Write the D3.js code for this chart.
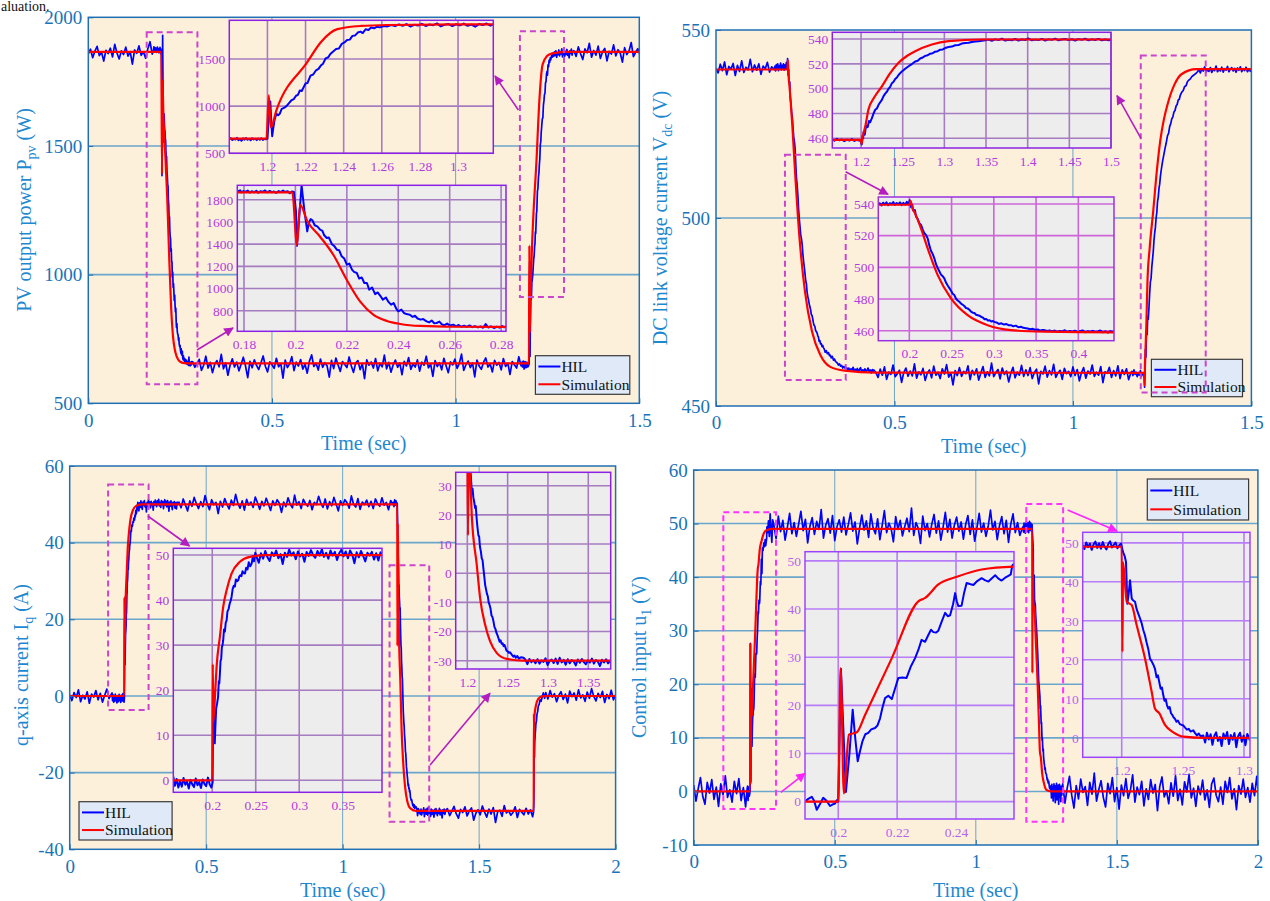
<!DOCTYPE html>
<html lang="en">
<head>
<meta charset="UTF-8">
<title>HIL vs Simulation responses</title>
<style>
  body { margin: 0; background: #fff; }
  svg { display: block; }
  text { font-family: "Liberation Serif", "Times New Roman", serif; }
</style>
</head>
<body>
<svg id="chart" width="1270" height="901"></svg>
<script src="https://cdn.jsdelivr.net/npm/d3@7"></script>
<script>
// ---------- PV output power (top left) ----------
const pvTicksX = [0, 0.5, 1, 1.5];
const pvTicksY = [500, 1000, 1500, 2000];
const pvSim = [[0,1866],[0.1988,1866],[0.2006,1391],[0.2018,1755],[0.2046,1609],[0.2096,1467],[0.2148,1302],[0.22,1077],[0.2252,882],[0.2304,763],[0.2356,708],[0.2408,681],[0.2486,663],[0.2616,656],[0.28,655],[1.1995,655],[1.2007,1114],[1.2018,774],[1.2047,956],[1.2209,1466],[1.2279,1675],[1.2367,1816],[1.249,1850],[1.263,1860],[1.3,1866],[1.5,1866]];
const pvStep = 0.006;
const pvHilPre = [1858,1876,1843,1869,1887,1851,1864,1830,1872,1859,1880,1846,1895,1861,1838,1870,1855,1884,1849,1867,1818,1873,1860,1889,1852,1866,1841,1878,1905,1857];
const pvHilMid = [662,640,655,671,628,648,683,637,659,619, 651,666,642,690,634,657,609,648,673,641, 660,626,652,679,645,600,663,638,669,647, 631,658,684,644,622,661,650,636,675,642, 655,598,668,639,653,681,627,660,645,670, 633,652,617,664,688,643,656,629,672,640, 658,646,602,667,635,676,649,624,662,651, 639,680,645,620,657,666,631,654,596,669, 648,661,637,674,626,655,642,687,634,659, 621,650,668,640,657,611,663,645,678,632, 654,641,669,625,660,648,683,638,652,605, 666,643,658,630,675,646,619,661,649,672, 636,655,691,628,650,664,639,657,603,668, 645,632,660,676,641,653,622,667,648,659, 630,674,643,656,612,662,650,637,681,646];
const pvHilPost = [1870,1848,1885,1859,1836,1877,1862,1899,1845,1871,1853,1888,1840,1866,1879,1831,1868,1857,1893,1850,1874,1861,1826,1882,1855,1869,1902,1847,1864,1878,1853];
const pvHilFall = [[0.1774,1872],[0.1785,1885],[0.179,1866],[0.1798,1878],[0.1805,1870],[0.1815,1882],[0.1822,1865],[0.183,1876],[0.184,1868],[0.1848,1880],[0.1856,1864],[0.1865,1877],[0.1873,1871],[0.1882,1884],[0.189,1866],[0.19,1879],[0.1908,1868],[0.1917,1874],[0.1925,1862],[0.1935,1878],[0.1943,1869],[0.1952,1883],[0.196,1870],[0.197,1876],[0.1978,1858],[0.1986,1875],[0.1994,1869],
  [0.2002,1700],[0.2006,1385],[0.2015,1650],[0.2024,1930],[0.2035,1700],[0.2046,1515],[0.2052,1590],[0.2059,1626],[0.2066,1615],[0.2075,1570],[0.2085,1560],[0.2096,1530],[0.2105,1520],[0.2112,1480],[0.2122,1455],[0.213,1460],[0.2142,1400],[0.2152,1380],[0.2161,1350],[0.217,1345],[0.218,1290],[0.219,1270],[0.22,1215],[0.221,1225],[0.222,1170],[0.2228,1150],[0.2239,1140],[0.2248,1090],[0.2258,1100],[0.2268,1050],[0.2278,1050],[0.2287,990],[0.2298,1010],[0.231,950],[0.232,965],[0.233,935],[0.234,900],[0.2352,920],[0.2362,880],[0.2372,855],[0.2382,870],[0.2392,820],[0.24,795],[0.2412,810],[0.2422,780],[0.2432,770],[0.2445,765],[0.2455,745],[0.2465,755],[0.2475,730],[0.2487,720],[0.2497,725],[0.251,705],[0.252,695],[0.253,712],[0.254,688],[0.2549,690],[0.256,702],[0.257,676],[0.258,670],[0.259,684],[0.26,668],[0.2614,675],[0.2625,660],[0.2635,672],[0.2645,656],[0.2656,665],[0.2666,654],[0.2677,668],[0.2688,652],[0.2698,662],[0.271,650],[0.272,658],[0.273,647],[0.274,680],[0.275,649],[0.276,660],[0.2772,645],[0.2783,656],[0.2794,648],[0.2805,662],[0.2812,651],[0.2819,660]];
const pvHilRise = [[1.18,652],[1.1808,660],[1.1816,641],[1.1824,655],[1.1832,646],[1.184,664],[1.1848,640],[1.1856,652],[1.1864,633],[1.1872,658],[1.188,645],[1.1888,662],[1.1896,643],[1.1904,655],[1.1912,638],[1.192,660],[1.1928,647],[1.1936,654],[1.1944,640],[1.1952,657],[1.196,645],[1.1968,659],[1.1976,642],[1.1984,653],[1.1992,648],
  [1.2,655],[1.2008,900],[1.2015,1050],[1.202,850],[1.2025,682],[1.203,760],[1.2038,860],[1.2047,920],[1.2056,903],[1.2065,920],[1.2075,970],[1.209,985],[1.21,1000],[1.2112,1030],[1.2125,1060],[1.2138,1075],[1.215,1110],[1.216,1120],[1.217,1166],[1.218,1160],[1.219,1200],[1.22,1240],[1.221,1245],[1.2226,1324],[1.224,1335],[1.2255,1380],[1.2268,1395],[1.228,1430],[1.2292,1450],[1.2305,1505],[1.232,1520],[1.233,1553],[1.2345,1580],[1.236,1605],[1.2375,1610],[1.239,1660],[1.2404,1675],[1.2418,1700],[1.2432,1705],[1.2446,1745],[1.246,1750],[1.2474,1780],[1.2488,1790],[1.25,1775],[1.2515,1815],[1.253,1808],[1.2544,1833],[1.256,1825],[1.2575,1842],[1.259,1835],[1.261,1850],[1.263,1845],
  [1.265,1860],[1.267,1848],[1.269,1866],[1.271,1852],[1.273,1870],[1.275,1844],[1.277,1862],[1.279,1855],[1.281,1873],[1.283,1850],[1.285,1866],[1.287,1858],[1.289,1877],[1.291,1846],[1.293,1864],[1.295,1870],[1.297,1849],[1.299,1868],[1.301,1856],[1.303,1875],[1.305,1852],[1.307,1864],[1.309,1842],[1.311,1870],[1.313,1860],[1.315,1876],[1.317,1853],[1.3185,1866]];

// ---------- DC link voltage (top right) ----------
const vdcTicksX = [0, 0.5, 1, 1.5];
const vdcTicksY = [450, 500, 550];
const vdcSim = [[0,539.5],[0.2,539.5],[0.2015,542],[0.2035,537.5],[0.2059,535],[0.2138,524.6],[0.2217,512],[0.2336,495.1],[0.2493,480.4],[0.269,469.8],[0.2927,463.5],[0.3203,460.4],[0.3598,459.4],[0.45,458.9],[1.1995,458.8],[1.2008,455.5],[1.2018,461],[1.203,464],[1.2055,471],[1.2088,483],[1.215,492],[1.225,501.9],[1.235,512.5],[1.245,520.8],[1.255,526.3],[1.265,530.2],[1.285,535.6],[1.305,538.3],[1.345,539.6],[1.5,539.6]];
const vdcStep = 0.006;
const vdcHilPre = [539.8,538.6,540.9,539.2,541.5,538.1,540.3,539.6,541.1,537.9,540.6,539.0,541.8,538.7,540.1,539.4,542.2,538.9,540.7,539.3,541.0,538.2,540.4,539.7,541.4,538.8,540.2];
const vdcHilMid = [458.9,457.6,459.8,458.2,460.4,457.1,459.0,458.4,460.9,457.8, 458.6,459.5,456.3,458.9,460.1,457.9,459.3,458.0,461.2,457.4, 459.1,458.3,460.0,456.8,458.7,459.6,457.5,460.6,458.2,459.0, 457.3,459.9,458.5,461.0,457.7,458.8,455.6,459.4,458.1,460.2, 457.9,459.2,458.6,460.7,457.0,459.5,458.3,459.9,456.9,458.8, 460.5,457.6,459.1,458.0,461.4,457.8,458.9,459.7,457.2,460.1, 458.4,459.3,456.4,458.7,460.3,457.5,459.0,458.2,460.8,457.9, 459.6,458.1,460.2,457.3,458.9,459.8,455.9,459.2,458.5,460.6, 457.7,459.4,458.3,461.1,457.6,458.8,459.5,457.1,460.0,458.6, 459.2,457.8,460.4,458.1,459.7,456.7,458.9,460.2,457.4,459.3, 458.5,460.9,457.9,459.0,458.2,460.5,456.2,459.1,458.7,460.3, 457.6,459.4,458.0,460.7,457.3,459.6,458.4,459.9,457.0,458.8];
const vdcHilFall = [[0.1633,539.5],[0.1652,540.4],[0.167,539.1],[0.169,540.8],[0.171,539.7],[0.173,541.0],[0.175,539.2],[0.177,540.5],[0.179,539.9],[0.181,541.2],[0.183,539.4],[0.185,540.6],[0.187,539.8],[0.189,541.0],[0.191,539.3],[0.193,540.7],[0.195,539.6],[0.197,541.3],[0.199,539.8],
  [0.2005,542.4],[0.202,538],[0.2035,539.5],[0.2045,536],[0.2066,536.2],[0.208,532],[0.21,530.5],[0.2117,528],[0.2138,526.8],[0.2158,524],[0.2178,521.5],[0.2198,520.3],[0.2217,518.3],[0.2236,514],[0.2256,510.5],[0.2276,508.5],[0.2296,505.7],[0.2316,502],[0.2336,499.5],[0.2355,497.5],[0.2375,495.4],[0.2394,494.5],[0.2414,493],[0.2434,490.4],[0.2454,488.5],[0.2474,486.9],[0.2494,485.2],[0.2513,483.3],[0.2533,482.5],[0.2553,480.2],[0.2572,479.1],[0.2592,478.3],[0.2612,477.1],[0.2632,476.4],[0.2651,475.6],[0.2671,474.3],[0.269,474.1],[0.271,473.2],[0.273,472.1],[0.275,471.4],[0.277,471.2],[0.279,470.1],[0.281,469.8],[0.283,469.5],[0.2848,468.8],[0.287,468.3],[0.289,467.2],[0.291,467.4],[0.293,466.5],[0.295,466.6],[0.297,465.8],[0.299,466.1],[0.3006,465.6],[0.303,465.2],[0.306,464.3],[0.309,464.7],[0.312,463.9],[0.315,464.2],[0.318,463.4],[0.3203,463.5],[0.323,462.8],[0.326,463.2],[0.329,462.2],[0.332,462.5],[0.335,461.8],[0.338,461.6],[0.34,461.4],[0.343,460.9],[0.346,461.2],[0.349,460.6],[0.352,460.8],[0.355,460.1],[0.358,460.5],[0.3598,460.4],[0.363,459.8],[0.366,460.2],[0.369,459.6],[0.372,460.1],[0.375,459.3],[0.378,459.9],[0.381,459.5],[0.384,460.3],[0.387,459.2],[0.39,459.8],[0.393,459.4],[0.396,460.0],[0.399,459.1],[0.402,459.7],[0.405,460.2],[0.408,459.0],[0.411,459.6],[0.414,459.3],[0.417,459.9],[0.42,459.2],[0.423,459.5],[0.426,460.1],[0.429,459.0],[0.432,459.6],[0.435,458.8],[0.438,459.7],[0.44,459.2],[0.4422,459.6]];
const vdcHilRise = [[1.1655,459.2],[1.168,458.1],[1.171,459.6],[1.174,458.4],[1.177,459.0],[1.18,457.8],[1.183,458.9],[1.186,458.2],[1.189,459.4],[1.192,457.9],[1.195,458.7],[1.198,458.3],[1.2,457.5],
  [1.2008,455],[1.2018,462],[1.2025,460],[1.203,465],[1.2045,463],[1.2055,468],[1.207,470],[1.208,469],[1.2095,474],[1.211,473],[1.2129,476],[1.215,480],[1.217,483],[1.219,484],[1.221,487],[1.223,489],[1.225,491],[1.227,494],[1.229,496],[1.231,497.5],[1.233,500],[1.235,501.5],[1.237,504.4],[1.239,505.5],[1.241,507.8],[1.243,509],[1.245,511],[1.247,512.5],[1.249,513.8],[1.252,515.5],[1.255,517],[1.258,518.5],[1.261,519.8],[1.265,521.9],[1.268,522.5],[1.271,524.3],[1.274,525.1],[1.277,526.4],[1.28,526.9],[1.283,528.2],[1.286,528.6],[1.289,529.8],[1.292,530.2],[1.295,531.4],[1.298,531.6],[1.301,532.7],[1.305,533.5],[1.309,533.9],[1.313,535.0],[1.317,535.2],[1.321,536.3],[1.325,536.7],[1.329,537.0],[1.333,537.6],[1.337,537.9],[1.341,538.2],[1.345,538.5],
  [1.349,538.9],[1.353,539.5],[1.357,538.6],[1.361,539.7],[1.365,539.1],[1.369,540.2],[1.373,538.8],[1.377,539.4],[1.381,539.0],[1.385,540.0],[1.389,538.7],[1.393,539.6],[1.397,539.2],[1.401,540.4],[1.405,538.9],[1.409,539.5],[1.413,539.1],[1.417,540.1],[1.421,538.8],[1.425,539.7],[1.429,539.3],[1.433,540.3],[1.437,538.9],[1.441,539.6],[1.445,540.0],[1.449,539.1],[1.453,539.8],[1.457,538.8],[1.461,539.9],[1.465,539.3],[1.469,540.2],[1.473,538.9],[1.477,539.7],[1.481,539.2],[1.485,540.1],[1.489,538.9],[1.493,539.6],[1.497,539.0],[1.5,539.5]];

// ---------- q-axis current (bottom left) ----------
const iqTicksX = [0, 0.5, 1, 1.5, 2];
const iqTicksY = [-40, -20, 0, 20, 40, 60];
const iqSim = [[0,0],[0.2,0],[0.2006,25.8],[0.2012,13],[0.2035,20],[0.205,25.2],[0.2088,31.9],[0.2126,38.5],[0.2165,42.2],[0.2222,45.9],[0.2318,48.5],[0.2433,49.6],[0.2625,50],[1.2,50],[1.2008,13],[1.2018,45],[1.2035,34],[1.2055,20],[1.2117,2.9],[1.2159,-8.6],[1.2221,-17.7],[1.2283,-23.4],[1.2366,-27.4],[1.249,-29.4],[1.2697,-30],[1.7,-30],[1.7006,-4.5],[1.7015,-8],[1.703,-5],[1.708,-2.5],[1.716,-0.8],[1.73,-0.1],[1.75,0],[2,0]];
const iqStep = 0.008;
const iqHilPre = [0.3,-1.2,0.9,-0.4,1.6,-1.5,0.2,-0.8,1.1,-1.9,0.5,-0.3,1.4,-1.0,0.7,-1.6,0.1,1.8,-0.7,0.4];
const iqHilHigh = [50.6,49.1,51.4,49.8,48.3,50.9,49.5,51.8,50.2,48.9, 50.7,49.4,52.3,50.1,48.6,51.2,49.9,50.5,47.6,50.8, 49.3,51.5,50.0,48.8,51.1,49.7,52.6,50.3,49.0,50.9, 48.5,51.3,49.8,50.6,49.2,51.9,50.4,48.7,50.8,49.6, 51.6,50.1,48.4,50.9,49.7,51.2,50.3,47.9,50.6,49.4, 51.7,50.0,49.1,52.4,49.8,50.7,48.9,51.3,50.2,49.5, 51.0,48.6,50.5,49.9,52.1,50.3,49.2,51.4,48.8,50.7, 49.6,51.8,50.1,48.3,50.9,49.7,51.2,50.4,49.0,52.2, 50.0,49.3,51.5,48.7,50.6,49.9,51.1,49.4,50.8,48.9, 51.4,50.2,49.5,51.7,49.8,50.5,48.6,51.0,49.9];
const iqHilLow = [-29.4,-31.2,-30.1,-28.8,-30.7,-31.9,-29.6,-30.4,-28.9,-31.3,-30.0,-29.2,-32.4,-30.6,-29.7,-31.0,-28.7,-30.3,-31.6,-29.5,-30.8,-29.1,-33.0,-30.2,-29.8,-31.4,-28.6,-30.5,-29.9,-31.1,-30.4,-28.9,-31.7,-29.6,-30.3,-31.0,-29.3,-30.8,-29.7,-31.5];
const iqHilStep2 = [[1.6995,-30.2],[1.7005,-28],[1.7012,-20],[1.702,-14],[1.7028,-16],[1.7038,-12],[1.705,-10.5],[1.7065,-9],[1.708,-7.2],[1.71,-6.5],[1.712,-4.8],[1.7145,-4.0],[1.717,-2.6],[1.72,-2.2],[1.723,-1.0],[1.727,-1.4],[1.731,-0.3],[1.735,0.8],[1.74,-0.6]];
const iqHilEnd = [0.9,-0.8,1.4,-0.3,0.6,-1.5,0.2,1.1,-0.9,0.5,-1.8,1.3,-0.2,0.8,-1.1,1.6,-0.5,0.3,-1.4,1.0,-0.6,1.9,-0.1,-1.3,0.7,-0.4,1.2,-1.7,0.4,-0.7,1.5,-1.0,0.3];
const iqHilRise = [[0.1552,0.8],[0.157,-1.2],[0.159,0.3],[0.161,-1.6],[0.163,-0.2],[0.165,-1.4],[0.167,0.5],[0.169,-1.0],[0.171,-0.3],[0.173,-1.8],[0.175,0.1],[0.177,-0.9],[0.179,-1.5],[0.181,0.4],[0.183,-1.1],[0.185,-0.4],[0.187,-1.7],[0.189,0.2],[0.191,-0.8],[0.193,-1.3],[0.195,0.6],[0.197,-0.9],[0.199,-1.6],
  [0.2004,-0.5],[0.2012,20],[0.2019,13.3],[0.2024,15],[0.2029,8.2],[0.2036,12],[0.2045,16],[0.2055,17],[0.2067,18.5],[0.2075,22],[0.2081,21.5],[0.2088,23.7],[0.2095,26.5],[0.2103,27],[0.211,29.5],[0.2118,30],[0.2126,31.1],[0.2135,33.5],[0.2145,33],[0.2155,35],[0.2165,35.5],[0.2175,37.5],[0.2188,38],[0.22,39.2],[0.2211,39.8],[0.2222,40.7],[0.2235,42.5],[0.2248,43.2],[0.226,43],[0.2272,44.6],[0.2286,44.2],[0.2299,44.4],[0.231,45.2],[0.2322,45.5],[0.2335,45.3],[0.2348,46.4],[0.236,46],[0.2376,45.9],[0.239,47.2],[0.2405,46.8],[0.242,48.4],[0.2437,47.5],[0.2453,48.1],[0.2468,49.8],[0.248,48.6],[0.2495,50.5],[0.251,49.6],
  [0.2535,48.3],[0.256,50.4],[0.2585,49.2],[0.261,50.9],[0.2635,49.5],[0.266,48.7],[0.2685,50.6],[0.271,49.8],[0.2735,51.0],[0.276,49.3],[0.2785,50.2],[0.281,48.0],[0.2835,50.5],[0.286,49.6],[0.2885,51.2],[0.291,49.9],[0.2935,50.6],[0.296,49.1],[0.2985,50.8],[0.301,49.7],[0.3035,50.3],[0.306,48.5],[0.3085,50.7],[0.311,49.8],[0.3135,51.1],[0.316,50.0],[0.3185,49.4],[0.321,50.9],[0.3235,49.9],[0.326,51.3],[0.3285,49.6],[0.331,50.5],[0.3335,49.2],[0.336,51.0],[0.3385,49.9],[0.341,50.7],[0.3435,48.9],[0.346,50.4],[0.3485,51.2],[0.351,49.7],[0.3535,50.8],[0.356,49.3],[0.3585,51.0],[0.361,50.1],[0.3635,48.2],[0.366,50.6],[0.3685,49.5],[0.371,50.9],[0.3735,49.8],[0.376,48.6],[0.3785,50.5],[0.381,49.9],[0.3835,50.7],[0.386,49.0],[0.3885,50.4],[0.391,48.8],[0.3935,50.6],[0.3952,49.9]];
const iqHilFall = [[1.1856,50.5],[1.188,49.4],[1.1905,51.2],[1.193,49.8],[1.1955,50.9],[1.198,49.6],
  [1.2,50.3],[1.2015,45],[1.203,38],[1.2045,33],[1.2055,28],[1.2065,29],[1.2075,26],[1.2085,24.5],[1.2096,22.4],[1.2105,23],[1.2115,19],[1.2125,16],[1.2137,13.1],[1.2147,12.5],[1.2157,9],[1.2168,7.5],[1.2179,5.1],[1.2189,4.5],[1.22,1.5],[1.221,-1],[1.2221,-4],[1.2232,-5.5],[1.2243,-7],[1.2255,-8],[1.2265,-10],[1.2275,-10.8],[1.2287,-12],[1.23,-14.5],[1.2312,-15],[1.2325,-16.6],[1.2337,-18.5],[1.235,-19.2],[1.2362,-20.5],[1.2375,-21.3],[1.2387,-22.3],[1.24,-23.5],[1.2412,-23],[1.2425,-24.2],[1.2437,-24],[1.245,-25],[1.246,-24.6],[1.247,-25.2],[1.2485,-26.5],[1.25,-26.8],[1.2515,-27.3],[1.253,-27.1],[1.2553,-28],[1.257,-28.6],[1.2585,-28.2],[1.26,-29],[1.262,-28.4],[1.264,-29.3],[1.2665,-28.8],[1.2697,-29],
  [1.272,-29.6],[1.2745,-31.2],[1.277,-29.4],[1.2795,-30.5],[1.282,-29.8],[1.2845,-30.9],[1.287,-29.5],[1.2895,-31.0],[1.292,-29.9],[1.2945,-30.4],[1.297,-29.2],[1.2995,-31.5],[1.302,-30.1],[1.3045,-29.6],[1.307,-30.8],[1.3095,-29.3],[1.312,-31.1],[1.3145,-29.0],[1.317,-30.6],[1.3195,-29.7],[1.322,-31.4],[1.3245,-29.5],[1.327,-30.9],[1.3295,-29.8],[1.332,-30.3],[1.3345,-31.6],[1.337,-29.6],[1.3395,-30.7],[1.342,-29.4],[1.3445,-30.5],[1.347,-31.2],[1.3495,-29.9],[1.352,-30.6],[1.3545,-29.3],[1.357,-31.0],[1.3595,-29.8],[1.362,-30.4],[1.3645,-31.8],[1.367,-29.7],[1.3695,-30.6],[1.372,-29.5],[1.3745,-30.9],[1.3778,-29.8]];

// ---------- control input u1 (bottom right) ----------
const uTicksX = [0, 0.5, 1, 1.5, 2];
const uTicksY = [-10, 0, 10, 20, 30, 40, 50, 60];
const uSim = [[0,0],[0.2,0],[0.2008,27.7],[0.2019,1.7],[0.2036,13.9],[0.2063,14.4],[0.2091,18],[0.2182,29.8],[0.2272,41.6],[0.2295,42.3],[0.234,45.1],[0.2408,46.8],[0.2487,48.2],[0.2597,48.8],[0.28,49],[1.2,49],[1.2006,22.1],[1.2011,45],[1.2041,34.9],[1.2082,34],[1.2122,28.9],[1.219,20.4],[1.2245,11.8],[1.2272,7.5],[1.2307,6.3],[1.2354,3.3],[1.2422,1.4],[1.2503,0.3],[1.2667,0],[2,0]];
const uStep = 0.008;
const uHilPre = [1.2,-1.8,0.5,2.6,-0.9,-2.4,1.7,-0.3,2.2,-1.5,0.8,-2.8,1.4,-0.6,2.9,-1.1,0.3,-2.0,1.9,-0.4,2.4,-1.7,0.7,-2.9];
const uHilSettle = [[0.262,48.3],[0.265,50.5],[0.268,47.6],[0.271,51.8],[0.274,48.9],[0.277,46.5],[0.28,50.7]];
const uHilHigh = [49.8,47.2,51.4,48.5,50.6,46.9,49.3,51.9,48.1,50.2, 47.6,49.9,52.3,48.7,50.8,46.4,49.5,51.1,48.0,50.4, 48.9,52.6,47.3,49.7,50.9,48.2,51.5,46.8,49.4,50.7, 48.4,51.2,47.9,49.8,52.0,48.6,50.3,46.2,49.1,51.6, 48.8,50.5,47.4,51.8,49.2,48.1,50.9,47.0,49.6,52.4, 48.3,50.1,49.0,46.6,51.3,48.9,50.6,47.7,49.4,51.0, 48.5,52.9,47.8,50.2,49.1,46.3,51.4,48.7,50.0,47.5, 49.9,51.7,48.2,50.5,46.9,49.3,52.1,48.4,50.8,47.3, 49.7,51.2,48.6,50.3,47.1,49.8,51.5,48.0,50.7,46.7, 49.2,51.9,48.4,50.1,47.6,49.5,52.5,48.8,50.4,47.0, 49.6,51.3,48.1,50.6,46.5,49.9,51.8,48.3,50.2,47.8, 49.0];
const uHilEnd = [1.4,-2.2,0.6,2.8,-0.7,-3.1,1.1,-1.4,2.3,-0.2, 0.9,-2.6,1.7,-0.5,3.4,-1.8,0.3,2.0,-1.1,-2.9, 1.5,-0.4,2.6,-1.9,0.7,-3.3,1.2,-0.8,2.4,-1.3, 0.2,3.1,-2.0,0.8,-0.6,1.9,-2.7,0.5,-1.5,2.2, -0.3,1.3,-3.6,0.9,2.7,-1.0,0.1,-2.3,1.6,-0.9, 2.9,-1.7,0.4,-2.5,1.8,-0.1,3.2,-1.2,0.6,-2.8, 1.0,-0.6,2.1,-1.6,0.3,-3.0,1.4,2.5,-0.7,-1.9, 0.8,-2.4,1.9,-0.2,2.6,-1.4,0.5,-3.4,1.1,-0.5, 2.3,-1.1,0.7,-2.0,1.5,-0.8,2.8,-1.6];
const uHilRise = [[0.1887,0],[0.1898,0.6],[0.191,1.0],[0.1918,0.2],[0.1927,-1.7],[0.1938,-0.5],[0.1949,0.8],[0.196,0.2],[0.1972,-0.9],[0.198,-0.6],[0.1989,-0.4],[0.1995,0.3],[0.2,0],[0.2009,27.6],[0.2026,2.0],[0.2038,10],[0.2049,19.1],[0.2058,13],[0.2066,8.4],[0.2074,10.5],[0.2082,12.5],[0.2092,14],[0.2102,14.3],[0.2112,15],[0.2125,15.3],[0.2133,15.8],[0.2142,17.3],[0.215,19.5],[0.2159,21.5],[0.217,22],[0.2182,21.3],[0.2193,23.5],[0.2204,25.7],[0.2218,25.8],[0.2232,25.7],[0.2246,28],[0.2261,29.8],[0.2272,31.5],[0.2283,33.6],[0.2295,33.2],[0.2306,34.6],[0.2315,35.7],[0.2323,35.2],[0.2332,35.1],[0.234,35.5],[0.2352,37.5],[0.2363,39.2],[0.2372,38.5],[0.238,38.7],[0.239,41],[0.2397,43.3],[0.2403,41.5],[0.2408,40.6],[0.2419,40.7],[0.2428,43.5],[0.2436,45.4],[0.2447,45.2],[0.2459,45],[0.2472,45.8],[0.2487,46.4],[0.2498,46],[0.251,45.7],[0.2522,46.4],[0.2533,47],[0.2544,46.3],[0.2555,45.9],[0.2567,46.5],[0.2578,46.9],[0.2586,47.2],[0.2591,49],[0.2597,49.4]];
const uHilFall = [[1.1681,49.5],[1.1695,48.4],[1.171,50.1],[1.1725,48.9],[1.174,49.8],[1.1755,48.2],[1.177,49.6],[1.1785,50.3],[1.18,48.7],[1.1815,49.9],[1.183,48.5],[1.1845,50.2],[1.186,49.0],[1.1875,48.3],[1.189,49.7],[1.1905,50.4],[1.192,48.8],[1.1935,49.5],[1.195,50.1],[1.1965,48.6],[1.198,49.4],[1.1995,49.8],
  [1.2011,47.6],[1.2025,46.5],[1.2035,45.1],[1.2046,34.4],[1.2057,37],[1.2068,40.4],[1.2082,35.7],[1.2095,35.2],[1.2109,34.9],[1.2122,33],[1.2136,31.8],[1.215,30.6],[1.2163,29.4],[1.2177,27.6],[1.219,26.3],[1.2203,24.5],[1.2217,22.8],[1.2231,20.3],[1.2245,19.6],[1.2258,18.8],[1.2272,17.7],[1.2285,15.5],[1.2296,16],[1.2307,14.3],[1.2318,12.6],[1.2329,12.9],[1.234,10.9],[1.235,9.5],[1.236,9.9],[1.237,8.4],[1.2381,7.5],[1.2392,7.9],[1.2403,6.3],[1.2415,5.8],[1.2425,5.2],[1.2435,4.9],[1.2448,4.1],[1.246,4.4],[1.2475,3.5],[1.249,3.3],[1.2503,3.2],[1.2518,2.6],[1.2533,2.1],[1.2548,2.3],[1.2563,1.6],[1.2585,1.9],[1.26,1.2],[1.2615,0.6],[1.263,1.1],[1.2645,0.4],[1.2667,0.6],
  [1.2682,-1.2],[1.2697,1.3],[1.2712,-0.4],[1.2727,0.9],[1.2742,-1.8],[1.2757,0.5],[1.2772,1.4],[1.2787,-0.8],[1.2802,0.2],[1.2817,-2.1],[1.2832,1.1],[1.2847,-0.3],[1.2862,1.5],[1.2877,-1.6],[1.2892,0.7],[1.2907,-0.5],[1.2922,1.2],[1.2937,-2.4],[1.2952,0.4],[1.2967,1.3],[1.2982,-1.0],[1.2997,0.6],[1.3012,-1.9],[1.3027,1.0],[1.3049,-0.7]];

const legendLabels = ["HIL", "Simulation"];

// ---------- helpers ----------
const seq = (t0, dt, vals) => vals.map((v, i) => [+(t0 + i * dt).toFixed(4), v]);
const joinSeries = (...parts) => parts.flat().sort((a, b) => a[0] - b[0]);

const PEACH = "#fdf0db", GREY = "#ededed";
const AX_BLUE = "#1a73b8", LBL_BLUE = "#1e88d0", GRID_BLUE = "#6aa6cb", FRAME_BLUE = "#1f6fb2";
const HIL_COLOR = "#0000ff", SIM_COLOR = "#ff0000";

const svg = d3.select("#chart");
const defs = svg.append("defs");
let clipN = 0;
function clipFor(b) {
  const id = "clip" + (clipN++);
  defs.append("clipPath").attr("id", id).append("rect")
    .attr("x", b[0]).attr("y", b[1]).attr("width", b[2] - b[0]).attr("height", b[3] - b[1]);
  return `url(#${id})`;
}
let markN = 0;
function arrowMarker(color) {
  const id = "arr" + (markN++);
  defs.append("marker").attr("id", id).attr("viewBox", "0 0 10 10")
    .attr("refX", 9).attr("refY", 5).attr("markerWidth", 7).attr("markerHeight", 6)
    .attr("orient", "auto").append("path").attr("d", "M0,0L10,5L0,10z").attr("fill", color);
  return `url(#${id})`;
}

function drawMain(p) {
  const [x0, y0, x1, y1] = p.box;
  const x = d3.scaleLinear().domain(p.xDomain).range([x0, x1]);
  const y = d3.scaleLinear().domain(p.yDomain).range([y1, y0]);
  const g = svg.append("g");
  g.append("rect").attr("x", x0).attr("y", y0).attr("width", x1 - x0).attr("height", y1 - y0).attr("fill", PEACH);

  g.append("g").selectAll("line").data(p.xTicks.slice(1, -1)).join("line")
    .attr("x1", d => x(d)).attr("x2", d => x(d)).attr("y1", y0).attr("y2", y1)
    .attr("stroke", GRID_BLUE).attr("stroke-width", 1);
  g.append("g").selectAll("line").data(p.yTicks.slice(1, -1)).join("line")
    .attr("y1", d => y(d)).attr("y2", d => y(d)).attr("x1", x0).attr("x2", x1)
    .attr("stroke", GRID_BLUE).attr("stroke-width", 1.6);

  const clip = clipFor(p.box);
  const hilLine = d3.line().x(d => x(d[0])).y(d => y(d[1]));
  const simLine = d3.line().x(d => x(d[0])).y(d => y(d[1])).curve(d3.curveMonotoneX);
  g.append("path").datum(p.hil).attr("clip-path", clip).attr("d", hilLine)
    .attr("fill", "none").attr("stroke", HIL_COLOR).attr("stroke-width", 1.7).attr("stroke-linejoin", "round");
  g.append("path").datum(p.sim).attr("clip-path", clip).attr("d", simLine)
    .attr("fill", "none").attr("stroke", SIM_COLOR).attr("stroke-width", 2.2);

  // axes
  const xAxis = g.append("g").attr("transform", `translate(0,${y1})`)
    .call(d3.axisBottom(x).tickValues(p.xTicks).tickSize(-5).tickPadding(10).tickFormat(d => d));
  const yAxis = g.append("g").attr("transform", `translate(${x0},0)`)
    .call(d3.axisLeft(y).tickValues(p.yTicks).tickSize(-5).tickPadding(6).tickFormat(d => d));
  [xAxis, yAxis].forEach(a => {
    a.select(".domain").remove();
    a.selectAll("line").attr("stroke", FRAME_BLUE);
    a.selectAll("text").attr("fill", AX_BLUE).style("font-size", "19px")
      .style("font-family", "'Liberation Serif', serif");
  });
  g.append("rect").attr("x", x0).attr("y", y0).attr("width", x1 - x0).attr("height", y1 - y0)
    .attr("fill", "none").attr("stroke", FRAME_BLUE).attr("stroke-width", 1.5);

  g.append("text").attr("x", (x0 + x1) / 2).attr("y", p.xLabelY).attr("text-anchor", "middle")
    .attr("fill", LBL_BLUE).style("font-size", "20px").text("Time (sec)");

  const yl = g.append("text").attr("transform", `translate(${p.yLabelX},${p.yLabelY}) rotate(-90)`)
    .attr("text-anchor", "middle").attr("fill", LBL_BLUE).style("font-size", "20px");
  yl.append("tspan").text(p.yLabel[0]);
  yl.append("tspan").attr("dy", 5).style("font-size", "14px").text(p.yLabel[1]);
  yl.append("tspan").attr("dy", -5).text(p.yLabel[2]);

  // legend
  const [lx0, ly0, lx1, ly1] = p.legend;
  const lg = g.append("g");
  lg.append("rect").attr("x", lx0).attr("y", ly0).attr("width", lx1 - lx0).attr("height", ly1 - ly0)
    .attr("fill", "#dfe9f7").attr("stroke", "#3a3a3a").attr("stroke-width", 1.2);
  legendLabels.forEach((lab, i) => {
    const ly = ly0 + (ly1 - ly0) * (i === 0 ? 0.28 : 0.74);
    lg.append("line").attr("x1", lx0 + 3).attr("x2", lx0 + 25).attr("y1", ly).attr("y2", ly)
      .attr("stroke", i === 0 ? HIL_COLOR : SIM_COLOR).attr("stroke-width", 2);
    lg.append("text").attr("x", lx0 + 26).attr("y", ly).attr("dy", "0.35em")
      .attr("fill", "#111").style("font-size", "15.5px").text(lab);
  });

  // zoom-region boxes, in data units
  g.append("g").selectAll("rect").data(p.zoomBoxes).join("rect")
    .attr("x", d => x(d[0])).attr("width", d => x(d[1]) - x(d[0]))
    .attr("y", d => y(d[3])).attr("height", d => y(d[2]) - y(d[3]))
    .attr("fill", "none").attr("stroke", p.dashColor).attr("stroke-width", 2).attr("stroke-dasharray", "6,4");
  return g;
}

function drawInset(ins) {
  const [x0, y0, x1, y1] = ins.box;
  const x = d3.scaleLinear().domain(ins.xDomain).range([x0, x1]);
  const y = d3.scaleLinear().domain(ins.yDomain).range([y1, y0]);
  const g = svg.append("g");
  g.append("rect").attr("x", x0).attr("y", y0).attr("width", x1 - x0).attr("height", y1 - y0).attr("fill", ins.bg);
  g.append("g").selectAll("line").data(ins.xTicks).join("line")
    .attr("x1", d => x(d)).attr("x2", d => x(d)).attr("y1", y0).attr("y2", y1)
    .attr("stroke", ins.grid).attr("stroke-width", 1.6);
  g.append("g").selectAll("line").data(ins.yTicks).join("line")
    .attr("y1", d => y(d)).attr("y2", d => y(d)).attr("x1", x0).attr("x2", x1)
    .attr("stroke", ins.grid).attr("stroke-width", 1.6);

  const clip = clipFor(ins.box);
  const hilLine = d3.line().x(d => x(d[0])).y(d => y(d[1]));
  const simLine = d3.line().x(d => x(d[0])).y(d => y(d[1])).curve(d3.curveMonotoneX);
  g.append("path").datum(ins.hil).attr("clip-path", clip).attr("d", hilLine)
    .attr("fill", "none").attr("stroke", HIL_COLOR).attr("stroke-width", 2).attr("stroke-linejoin", "round");
  g.append("path").datum(ins.sim).attr("clip-path", clip).attr("d", simLine)
    .attr("fill", "none").attr("stroke", SIM_COLOR).attr("stroke-width", 2.2);

  g.append("rect").attr("x", x0).attr("y", y0).attr("width", x1 - x0).attr("height", y1 - y0)
    .attr("fill", "none").attr("stroke", ins.frame).attr("stroke-width", 1.5);

  const xa = g.append("g").attr("transform", `translate(0,${y1})`)
    .call(d3.axisBottom(x).tickValues(ins.xTicks).tickSize(0).tickPadding(8).tickFormat(d => d));
  const ya = g.append("g").attr("transform", `translate(${x0},0)`)
    .call(d3.axisLeft(y).tickValues(ins.yTicks).tickSize(0).tickPadding(4).tickFormat(d => d));
  [xa, ya].forEach(a => {
    a.select(".domain").remove();
    a.selectAll("text").attr("fill", ins.label).style("font-size", "13.5px")
      .style("font-family", "'Liberation Serif', serif");
  });
}

function drawArrows(list, color) {
  const m = arrowMarker(color);
  svg.append("g").selectAll("line").data(list).join("line")
    .attr("x1", d => d[0]).attr("y1", d => d[1]).attr("x2", d => d[2]).attr("y2", d => d[3])
    .attr("stroke", color).attr("stroke-width", 1.6).attr("marker-end", m);
}

// caption fragment from the page above the figure
svg.append("text").attr("x", 1).attr("y", 11).attr("fill", "#111")
  .style("font-size", "14px").text("aluation.");

// ---------- build series ----------
const pvHil = joinSeries(seq(0, pvStep, pvHilPre), pvHilFall, seq(0.284, pvStep, pvHilMid), pvHilRise, seq(1.322, pvStep, pvHilPost));
const vdcHil = joinSeries(seq(0, vdcStep, vdcHilPre), vdcHilFall, seq(0.448, vdcStep, vdcHilMid), vdcHilRise);
const iqHil = joinSeries(seq(0, iqStep, iqHilPre), iqHilRise, seq(0.4, iqStep, iqHilHigh), iqHilFall, seq(1.384, iqStep, iqHilLow), iqHilStep2, seq(1.744, iqStep, iqHilEnd));
const uHil = joinSeries(seq(0, uStep, uHilPre), uHilRise, uHilSettle, seq(0.284, uStep, uHilHigh), uHilFall, seq(1.308, uStep, uHilEnd));

const TL_INS = { bg: GREY, grid: "#a67cc0", frame: "#8a22e6", label: "#b03ce0" };
const BR_INS = { bg: GREY, grid: "#b77cf7", frame: "#9b44ff", label: "#b463ee" };

// ---------- top left ----------
drawMain({ box: [88.3, 17.3, 639.3, 403.3], xDomain: [0, 1.5], yDomain: [500, 2000],
  xTicks: pvTicksX, yTicks: pvTicksY, hil: pvHil, sim: pvSim,
  xLabelY: 450, yLabelX: 31, yLabelY: 210, yLabel: ["PV output power P", "pv", " (W)"],
  legend: [535.4, 355.7, 629.8, 394.3], dashColor: "#cc44cc",
  zoomBoxes: [[0.159, 0.297, 574, 1942], [1.175, 1.295, 913, 1946]] });
drawInset({ ...TL_INS, bg: PEACH, box: [229.3, 20.3, 493.3, 153.3], xDomain: [1.18, 1.3185], yDomain: [500, 1910],
  xTicks: [1.2, 1.22, 1.24, 1.26, 1.28, 1.3], yTicks: [500, 1000, 1500], hil: pvHilRise, sim: pvSim });
drawInset({ ...TL_INS, box: [237.3, 185.3, 506, 331.3], xDomain: [0.1774, 0.2819], yDomain: [615, 1930],
  xTicks: [0.18, 0.2, 0.22, 0.24, 0.26, 0.28], yTicks: [800, 1000, 1200, 1400, 1600, 1800], hil: pvHilFall, sim: pvSim });
drawArrows([[197, 350, 233, 328], [518.4, 110, 495, 76]], "#b41ec0");

// ---------- top right ----------
drawMain({ box: [716, 30, 1251.4, 406], xDomain: [0, 1.5], yDomain: [450, 550],
  xTicks: vdcTicksX, yTicks: vdcTicksY, hil: vdcHil, sim: vdcSim,
  xLabelY: 453, yLabelX: 667, yLabelY: 218, yLabel: ["DC link voltage current V", "dc", " (V)"],
  legend: [1151.4, 359.3, 1242.5, 396.7], dashColor: "#cc44cc",
  zoomBoxes: [[0.1932, 0.3634, 456.9, 516.8], [1.19, 1.372, 453.6, 543.2]] });
drawInset({ ...TL_INS, box: [832.3, 32.3, 1111, 148], xDomain: [1.1655, 1.5], yDomain: [452.2, 545.4],
  xTicks: [1.2, 1.25, 1.3, 1.35, 1.4, 1.45, 1.5], yTicks: [460, 480, 500, 520, 540], hil: vdcHilRise, sim: vdcSim });
drawInset({ ...TL_INS, grid: "#cc66d6", frame: "#9a30e0", box: [878.3, 197, 1114, 340.7], xDomain: [0.1633, 0.4422], yDomain: [453.7, 544.4],
  xTicks: [0.2, 0.25, 0.3, 0.35, 0.4], yTicks: [460, 480, 500, 520, 540], hil: vdcHilFall, sim: vdcSim });
drawArrows([[845.6, 171.7, 888, 194.3], [1141, 138.3, 1117, 95.7]], "#b41ec0");

// ---------- bottom left ----------
drawMain({ box: [69.7, 466, 615.6, 849.3], xDomain: [0, 2], yDomain: [-40, 60],
  xTicks: iqTicksX, yTicks: iqTicksY, hil: iqHil, sim: iqSim,
  xLabelY: 897, yLabelX: 28, yLabelY: 665, yLabel: ["q-axis current I", "q", " (A)"],
  legend: [79, 801.7, 172.1, 840], dashColor: "#cc44cc",
  zoomBoxes: [[0.1407, 0.289, -3.66, 55.2], [1.1718, 1.3172, -32.8, 34.1]] });
drawInset({ ...TL_INS, box: [173.3, 548.3, 382, 792.3], xDomain: [0.1552, 0.3952], yDomain: [-2.66, 51.5],
  xTicks: [0.2, 0.25, 0.3, 0.35], yTicks: [0, 10, 20, 30, 40, 50], hil: iqHilRise, sim: iqSim });
drawInset({ ...TL_INS, box: [455.7, 472.3, 610.7, 669], xDomain: [1.1856, 1.3778], yDomain: [-32.85, 34.6],
  xTicks: [1.2, 1.25, 1.3, 1.35], yTicks: [-30, -20, -10, 0, 10, 20, 30], hil: iqHilFall, sim: iqSim });
drawArrows([[147.8, 516, 189.5, 546], [430.1, 765, 490, 693.3]], "#b41ec0");

// ---------- bottom right ----------
drawMain({ box: [693.7, 470, 1257.9, 845], xDomain: [0, 2], yDomain: [-10, 60],
  xTicks: uTicksX, yTicks: uTicksY, hil: uHil, sim: uSim,
  xLabelY: 897, yLabelX: 646, yLabelY: 657, yLabel: ["Control input u", "1", " (V)"],
  legend: [1147.3, 479, 1248.6, 520], dashColor: "#ff33ff",
  zoomBoxes: [[0.105, 0.2917, -3.3, 52.1], [1.179, 1.3095, -5.65, 53.65]] });
drawInset({ ...BR_INS, box: [805, 551.7, 1014, 819], xDomain: [0.1887, 0.2597], yDomain: [-3.6, 51.9],
  xTicks: [0.2, 0.22, 0.24], yTicks: [0, 10, 20, 30, 40, 50], hil: uHilRise, sim: uSim });
drawInset({ ...BR_INS, box: [1082.7, 532.3, 1250, 757.3], xDomain: [1.1681, 1.3049], yDomain: [-5, 52.7],
  xTicks: [1.2, 1.25, 1.3], yTicks: [0, 10, 20, 30, 40, 50], hil: uHilFall, sim: uSim });
drawArrows([[780.8, 792.3, 805, 773.3], [1067.6, 510, 1117, 531]], "#ff22ff");
</script>
</body>
</html>
